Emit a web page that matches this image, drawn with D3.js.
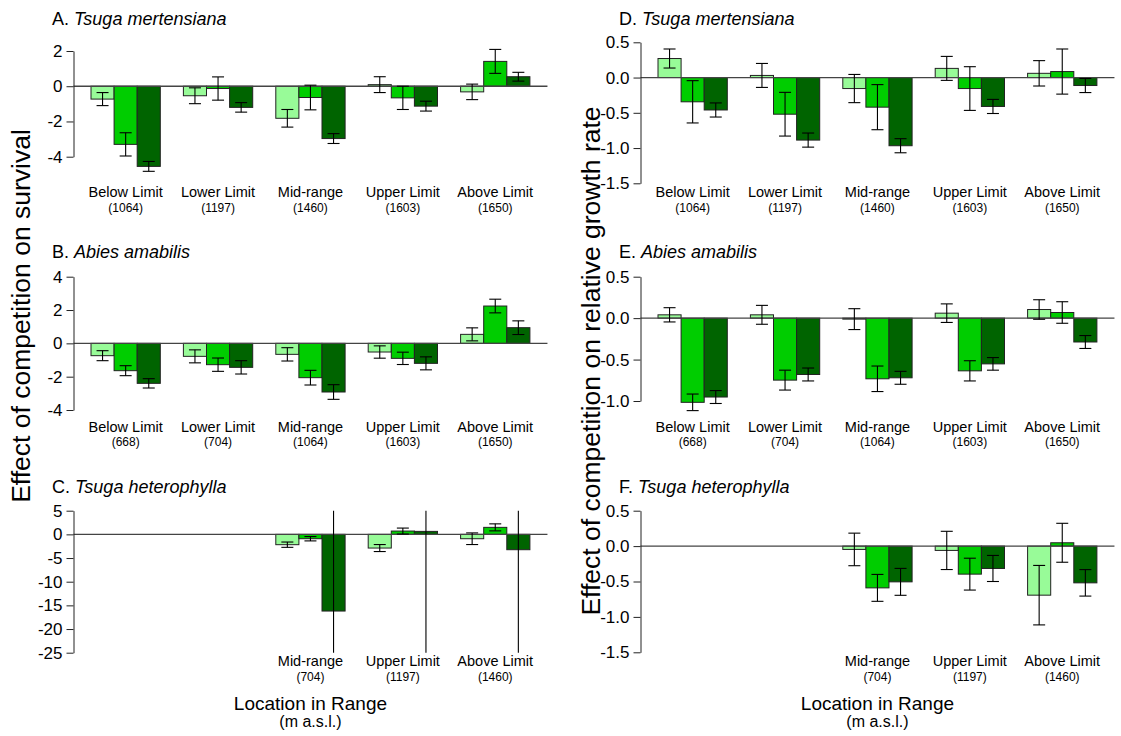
<!DOCTYPE html>
<html><head><meta charset="utf-8">
<script src="https://cdn.jsdelivr.net/npm/d3@7"></script>
<style>
body{margin:0;background:#fff}
svg{display:block}
text{font-family:"Liberation Sans",Arial,sans-serif;fill:#000}
</style>
</head><body>
<svg id="chart" width="1121" height="736"></svg>
<script>
// ---------- data ----------
const locations = ["Below Limit","Lower Limit","Mid-range","Upper Limit","Above Limit"];
const locationsHet = ["Mid-range","Upper Limit","Above Limit"];
const elevMert = [1064,1197,1460,1603,1650];
const elevAbies = [668,704,1064,1603,1650];
const elevHet = [704,1197,1460];
const seriesColors = ["#98FB98","#00CD00","#006400"];

// A. survival, Tsuga mertensiana
const survMert1 = [-0.73,-0.54,-1.82,0.09,-0.32];
const survMert2 = [-3.30,-0.13,-0.64,-0.66,1.41];
const survMert3 = [-4.55,-1.20,-2.97,-1.13,0.54];
const survMertSE1 = [0.37,0.45,0.50,0.45,0.44];
const survMertSE2 = [0.66,0.66,0.70,0.66,0.68];
const survMertSE3 = [0.28,0.27,0.28,0.28,0.25];
// B. survival, Abies amabilis
const survAbies1 = [-0.74,-0.78,-0.66,-0.52,0.54];
const survAbies2 = [-1.64,-1.28,-2.06,-0.90,2.24];
const survAbies3 = [-2.40,-1.44,-2.92,-1.20,0.94];
const survAbiesSE1 = [0.30,0.39,0.40,0.37,0.39];
const survAbiesSE2 = [0.30,0.40,0.44,0.37,0.41];
const survAbiesSE3 = [0.28,0.40,0.44,0.39,0.41];
// C. survival, Tsuga heterophylla
const survHet1 = [-2.18,-2.89,-0.92];
const survHet2 = [-0.92,0.70,1.48];
const survHet3 = [-16.2,0.63,-3.24];
const survHetSE1 = [0.56,0.74,1.23];
const survHetSE2 = [0.46,0.63,0.74];
const survHetSE3 = [45,45,45];
// D. growth, Tsuga mertensiana
const grMert1 = [0.27,0.03,-0.156,0.13,0.06];
const grMert2 = [-0.344,-0.52,-0.42,-0.156,0.085];
const grMert3 = [-0.46,-0.887,-0.967,-0.41,-0.113];
const grMertSE1 = [0.135,0.17,0.20,0.17,0.18];
const grMertSE2 = [0.30,0.31,0.32,0.31,0.32];
const grMertSE3 = [0.10,0.10,0.10,0.10,0.10];
// E. growth, Abies amabilis
const grAbies1 = [0.04,0.04,-0.012,0.06,0.104];
const grAbies2 = [-1.016,-0.748,-0.732,-0.636,0.068];
const grAbies3 = [-0.952,-0.68,-0.72,-0.552,-0.288];
const grAbiesSE1 = [0.086,0.114,0.126,0.112,0.118];
const grAbiesSE2 = [0.10,0.12,0.154,0.122,0.13];
const grAbiesSE3 = [0.078,0.078,0.078,0.076,0.078];
// F. growth, Tsuga heterophylla
const grHet1 = [-0.047,-0.061,-0.693];
const grHet2 = [-0.59,-0.396,0.047];
const grHet3 = [-0.505,-0.316,-0.519];
const grHetSE1 = [0.23,0.27,0.42];
const grHetSE2 = [0.19,0.225,0.275];
const grHetSE3 = [0.19,0.184,0.187];

const ticksSurvMert = [2,0,-2,-4];
const ticksSurvAbies = [4,2,0,-2,-4];
const ticksSurvHet = [5,0,-5,-10,-15,-20,-25];
const ticksGr = [0.5,0.0,-0.5,-1.0,-1.5];
const ticksGrAbies = [0.5,0.0,-0.5,-1.0];

// ---------- layout ----------
const svg = d3.select("#chart");
const unit = 23.1;
const colX = [91, 658];
const intFmt = d => String(d);
const decFmt = d => d.toFixed(1);

const panels = [
  {letter:"A. ", species:"Tsuga mertensiana", col:0, cats:locations, elev:elevMert,
   means:[survMert1,survMert2,survMert3], se:[survMertSE1,survMertSE2,survMertSE3],
   ticks:ticksSurvMert, fmt:intFmt, dom:[-4,2], px:[156.7,51], clip:[-5.8,2.8], titleY:25, labelY:197},
  {letter:"B. ", species:"Abies amabilis", col:0, cats:locations, elev:elevAbies,
   means:[survAbies1,survAbies2,survAbies3], se:[survAbiesSE1,survAbiesSE2,survAbiesSE3],
   ticks:ticksSurvAbies, fmt:intFmt, dom:[-4,4], px:[410,276.7], clip:[-4.8,4.3], titleY:258, labelY:431.5},
  {letter:"C. ", species:"Tsuga heterophylla", col:0, cats:locationsHet, elev:elevHet,
   means:[survHet1,survHet2,survHet3], se:[survHetSE1,survHetSE2,survHetSE3],
   ticks:ticksSurvHet, fmt:intFmt, dom:[-25,5], px:[652.7,510.7], clip:[-25,5], titleY:493, labelY:666},
  {letter:"D. ", species:"Tsuga mertensiana", col:1, cats:locations, elev:elevMert,
   means:[grMert1,grMert2,grMert3], se:[grMertSE1,grMertSE2,grMertSE3],
   ticks:ticksGr, fmt:decFmt, dom:[-1.5,0.5], px:[183.3,42.3], clip:[-1.58,0.58], titleY:25, labelY:197},
  {letter:"E. ", species:"Abies amabilis", col:1, cats:locations, elev:elevAbies,
   means:[grAbies1,grAbies2,grAbies3], se:[grAbiesSE1,grAbiesSE2,grAbiesSE3],
   ticks:ticksGrAbies, fmt:decFmt, dom:[-1.0,0.5], px:[401,276.7], clip:[-1.26,0.56], titleY:258, labelY:431.5},
  {letter:"F. ", species:"Tsuga heterophylla", col:1, cats:locationsHet, elev:elevHet,
   means:[grHet1,grHet2,grHet3], se:[grHetSE1,grHetSE2,grHetSE3],
   ticks:ticksGr, fmt:decFmt, dom:[-1.5,0.5], px:[652.3,510.7], clip:[-1.58,0.58], titleY:493, labelY:666}
];

panels.forEach(p => {
  const g = svg.append("g");
  const x = d3.scaleLinear().domain([1,20]).range([colX[p.col], colX[p.col] + 19*unit]);
  const y = d3.scaleLinear().domain(p.dom).range(p.px);
  const axisX = Math.round(x(0.24)) + 0.5;

  // title
  const t = g.append("text").attr("x", colX[p.col] - 39).attr("y", p.titleY).attr("font-size", 18);
  t.append("tspan").text(p.letter);
  t.append("tspan").attr("font-style","italic").text(p.species);

  // bars
  p.cats.forEach((cat, i) => {
    const gi = locations.indexOf(cat);
    p.means.forEach((ser, s) => {
      const v = ser[i];
      const x0 = x(1 + 4*gi + s);
      g.append("rect")
        .attr("x", x0).attr("width", x(2) - x(1))
        .attr("y", Math.min(y(0), y(v))).attr("height", Math.abs(y(v) - y(0)))
        .attr("fill", seriesColors[s]).attr("stroke", "#222").attr("stroke-width", 1);
    });
  });

  // zero line
  g.append("line").attr("x1", axisX).attr("x2", x(20.76))
    .attr("y1", y(0)).attr("y2", y(0)).attr("stroke", "#444").attr("stroke-width", 1.3);

  // error bars
  p.cats.forEach((cat, i) => {
    const gi = locations.indexOf(cat);
    p.means.forEach((ser, s) => {
      const v = ser[i], e = p.se[s][i];
      const cx = x(1 + 4*gi + s + 0.5);
      let hi = v + e, lo = v - e;
      const hiClip = hi > p.clip[1], loClip = lo < p.clip[0];
      hi = Math.min(hi, p.clip[1]); lo = Math.max(lo, p.clip[0]);
      g.append("line").attr("x1", cx).attr("x2", cx).attr("y1", y(hi)).attr("y2", y(lo))
        .attr("stroke", "#000").attr("stroke-width", 1.1);
      if (!hiClip) g.append("line").attr("x1", cx-6).attr("x2", cx+6).attr("y1", y(hi)).attr("y2", y(hi))
        .attr("stroke", "#000").attr("stroke-width", 1.1);
      if (!loClip) g.append("line").attr("x1", cx-6).attr("x2", cx+6).attr("y1", y(lo)).attr("y2", y(lo))
        .attr("stroke", "#000").attr("stroke-width", 1.1);
    });
  });

  // y axis
  const ax = g.append("g").attr("transform", `translate(${axisX},0)`)
    .call(d3.axisLeft(y).tickValues(p.ticks).tickFormat(p.fmt).tickSize(7).tickSizeOuter(0).tickPadding(4));
  ax.attr("font-family", null).attr("font-size", null);
  ax.selectAll("text").attr("font-size", 17).style("font-family", '"Liberation Sans",Arial,sans-serif');
  ax.selectAll("path,line").attr("stroke", "#222");

  // category labels
  p.cats.forEach((cat, i) => {
    const gi = locations.indexOf(cat);
    const cx = x(1 + 4*gi + 1.5);
    g.append("text").attr("x", cx).attr("y", p.labelY).attr("text-anchor","middle").attr("font-size", 14.5).text(cat);
    g.append("text").attr("x", cx).attr("y", p.labelY + 14.5).attr("text-anchor","middle").attr("font-size", 12).text("(" + p.elev[i] + ")");
  });

  if (p.letter === "C. " || p.letter === "F. ") {
    const cx = x(10.5);
    g.append("text").attr("x", cx).attr("y", 710).attr("text-anchor","middle").attr("font-size", 19).text("Location in Range");
    g.append("text").attr("x", cx).attr("y", 727).attr("text-anchor","middle").attr("font-size", 16).text("(m a.s.l.)");
  }
});

// y-axis titles
svg.append("text").attr("transform", "translate(30,316) rotate(-90)").attr("text-anchor","middle")
  .attr("font-size", 26.5).text("Effect of competition on survival");
svg.append("text").attr("transform", "translate(600,361) rotate(-90)").attr("text-anchor","middle")
  .attr("font-size", 26.5).text("Effect of competition on relative growth rate");
</script>
</body></html>
